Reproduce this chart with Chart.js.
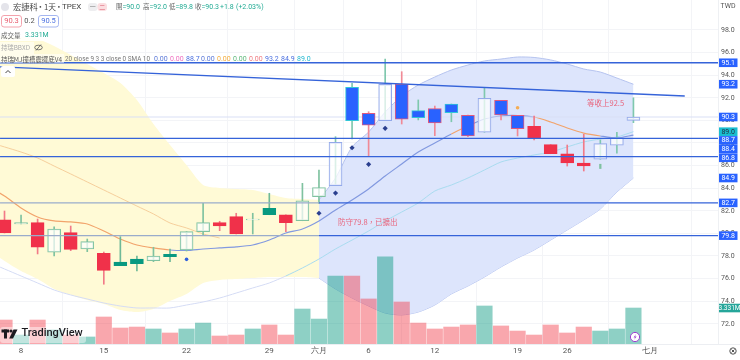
<!DOCTYPE html>
<html>
<head>
<meta charset="utf-8">
<style>
  html, body { margin: 0; padding: 0; background: #fff; }
  canvas { display: block; filter: blur(0.35px); }
</style>
<script src="https://cdn.jsdelivr.net/npm/chart.js@4"></script>
</head>
<body>
<canvas id="chart" width="740" height="360"></canvas>
<script>
// candles, index 0 is the bar just left of "8"
const kinds = ['r','g','r','g','r','g','r','t','t','g','t','g','g','r','r','g','t','r','g','g','bh','bc','br','bh','br','bc','br','bc','br','bh','br','br','r','r','r','r','bh','bh','bh'];
const opens = [81.19,80.83,80.95,78.33,80.06,78.62,78.24,77.47,77.73,77.58,78.15,78.53,80.15,80.95,81.48,81.2,82.22,81.65,81.12,83.25,84.22,92.93,90.63,89.97,93.19,90.86,91.04,91.45,90.45,88.95,91.78,90.45,89.48,87.85,87.05,86.23,86.56,87.8,90.0];
const closes = [80.04,80.96,78.77,80.39,78.59,79.27,76.73,77.14,77.32,78.0,77.94,80.15,80.95,80.65,79.95,81.27,81.65,80.95,82.87,84.06,88.06,89.97,89.57,93.19,90.1,90.24,89.77,90.68,88.62,91.96,90.48,89.27,88.42,87.05,86.23,85.96,87.94,88.47,90.3];
const highs = [81.98,81.63,81.27,80.57,80.65,79.5,78.35,79.71,78,78.77,78.62,80.15,82.66,81.07,81.78,81.78,83.55,81.65,84.43,85.61,88.56,93.28,90.77,95.43,94.31,91.81,91.27,91.45,90.48,92.89,91.78,90.45,90.39,87.85,87.82,88.77,88.27,88.95,92.0];
const lows = [80.04,80.83,78.18,78,78.47,78.38,75.5,77.14,76.67,77.5,77.5,78.44,79.8,80.24,79.95,79.95,81.65,80.15,81.12,82.66,84.22,88.35,86.79,89.97,89.68,90.04,88.65,89.88,88.56,88.95,90.04,88.62,88.27,87.05,85.96,85.52,86.56,87.09,89.8];

// volume in millions, 1 = green bar
const volumes = [2.22,0.83,2.22,1.30,0.83,0.65,2.50,1.48,1.57,1.39,1.02,1.39,1.94,0.74,0.83,1.39,1.76,0.83,3.24,2.31,6.30,6.30,4.17,8.06,3.89,1.94,1.39,1.57,1.76,3.52,1.67,1.20,0.83,1.76,1.02,1.57,1.20,1.39,3.331];
const volumeUp = [0,1,0,1,0,1,0,0,0,1,0,1,1,0,0,1,0,0,1,1,1,0,0,1,0,0,0,0,0,1,0,0,0,0,0,0,1,1,1];

// indicator lines, these start one bar earlier (index -1) so they run off the left edge
const bandUpper = [97.56,97.47,97.38,97.20,96.58,95.79,94.99,94.19,93.31,91.81,89.68,87.82,86.05,84.28,84.02,83.93,83.84,83.49,83.13,83.04,82.96,84.90,87.65,88.97,90.74,92.16,93.13,93.84,94.46,94.90,95.26,95.43,95.61,95.57,95.35,94.99,94.55,94.28,93.75,93.2];
const bandLower = [78.53,77.56,76.67,75.96,75.08,74.55,74.10,73.75,73.22,73.04,73.31,74.02,74.64,75.61,75.88,75.96,76.05,76.14,76.14,76.14,76.05,75.08,74.28,73.57,72.95,72.78,73.04,73.66,74.64,75.34,76.14,77.03,77.82,78.53,79.41,80.30,81.19,82.16,83.66,84.9];
const midLine = [84.19,83.31,82.25,81.45,81.10,81.01,80.83,80.21,79.50,78.97,78.71,78.53,78.49,78.62,78.71,78.80,78.97,79.41,80.03,80.39,81.10,82.07,82.96,83.93,85.08,86.14,87.20,88.0,88.80,89.50,90.12,90.39,90.43,90.30,89.86,89.33,88.88,88.62,88.44,88.7];
const slowLine = [77.47,76.85,76.23,75.61,74.99,74.55,74.19,73.84,73.57,73.40,73.40,73.40,73.66,73.93,74.28,74.72,75.17,75.61,76.23,76.94,77.73,78.62,79.41,80.21,81.10,81.89,82.69,83.75,84.28,84.90,85.61,86.32,86.67,86.94,87.20,87.65,88.09,88.35,88.53,89.0];
const fadedLine = [88.09,87.65,87.20,86.67,85.96,85.26,84.55,83.84,83.13,82.42,81.72,80.92,80.48,79.95,79.59];
const midOrangeBars = [-1,0,1,2,3,4,5,6,7,8,9,27,32,33,34,35];
const bandSwitchBar = 19;

// drawn levels and the falling trend line [bar, price]
const levels = [95.1, 88.4, 86.8, 82.7, 79.8];
const trendLine = [[-0.27, 94.73], [41.1, 92.16]];
const lastClose = 90.3;

// markers
const diamondBars = [19,20,21,22,23];
const diamondPrices = [81.78,83.57,87.58,86.11,89.3];
const dotBlue = [[11, 77.7]];
const dotOrange = [[31, 91.12]];
const smallTick = [36, 85.74, 86.12];

// axes
const xTickBars = [1,6,11,16,19,22,26,31,34,39];
const xTickLabels = ['8','15','22','29','六月','6','12','19','26','七月'];
const priceTicks = [98,96,94,92,90,88,86,84,82,80,78,76,74,72];
const priceBadges = [['95.1','b'],['93.2','b'],['90.3','b'],['89.0','c'],['88.7','b'],['88.4','b'],['86.8','b'],['84.9','b'],['82.7','b'],['79.8','b']];

const FONT = '"Noto Sans CJK TC", Roboto, sans-serif';
const NUM = 'Roboto, sans-serif';
const RED = '#f0314a', TEAL = '#089981', GREEN_EDGE = '#7fc2a0', BLUE = '#2962ff', BLUE_EDGE = '#93a9ea';
const LEVEL = '#3563d9';

const bodyFill = { r: RED, t: TEAL, g: 'rgba(255,255,255,.7)', bh: 'rgba(255,255,255,.72)', bc: BLUE, br: BLUE };
const bodyEdge = { r: RED, t: TEAL, g: GREEN_EDGE, bh: BLUE_EDGE, bc: '#31c6d8', br: '#e0597e' };
const wickColor = { r: '#f27a88', t: '#6fb998', g: GREEN_EDGE, bh: '#7fc8ae', bc: '#7fc8ae', br: '#f08a96' };

const series = (arr, from, to) => arr.map((v, k) => ({ x: k - 1, y: v })).filter(p => p.x >= from && p.x <= to);

function lineSet(data, color, width, order, extra) {
  return Object.assign({ type: 'line', data, borderColor: color, borderWidth: width, pointRadius: 0, tension: 0.25, fill: false, order }, extra || {});
}

const datasets = [
  lineSet(series(bandUpper, -1, bandSwitchBar), 'rgba(0,0,0,0)', 0, 90, { fill: '+1', backgroundColor: '#fffad6' }),
  lineSet(series(bandLower, -1, bandSwitchBar), 'rgba(0,0,0,0)', 0, 90),
  lineSet(series(bandUpper, bandSwitchBar, 38), '#b5c3ef', 1, 89, { fill: '+1', backgroundColor: '#dde5fc' }),
  lineSet(series(bandLower, bandSwitchBar, 38), '#b5c3ef', 1, 89),
  lineSet(series(slowLine, -1, 38), '#c3e6f3', 1, 70, {
    segment: { borderColor: c => c.p0.parsed.x < 17 ? '#d5dcf5' : '#a9dcf0' },
  }),
  lineSet(series(fadedLine, -1, 13), '#f6cf9c', 1, 70),
  lineSet(series(midLine, -1, 38), '#8ea0e0', 1.2, 68, {
    segment: { borderColor: c => midOrangeBars.includes(c.p0.parsed.x) ? '#f2a36b' : '#8299e0' },
  }),
  lineSet([{ x: -0.27, y: lastClose }, { x: 43.11, y: lastClose }], '#d9dff5', 1, 65, { tension: 0 }),
  {
    type: 'bar', yAxisID: 'yVol', grouped: false, order: 60, barThickness: 15.5,
    data: volumes.map((v, i) => ({ x: i, y: v })),
    backgroundColor: volumeUp.map(u => u ? 'rgba(8,153,129,.46)' : 'rgba(242,54,69,.44)'),
  },
  {
    type: 'bar', grouped: false, order: 40, barThickness: 1,
    data: highs.map((h, i) => ({ x: i, y: [lows[i], h] })),
    backgroundColor: kinds.map(k => wickColor[k]),
  },
  {
    type: 'bar', grouped: false, order: 39, barThickness: 13, borderSkipped: false, borderWidth: 1,
    data: opens.map((o, i) => ({ x: i, y: [o, closes[i]] })),
    backgroundColor: kinds.map(k => bodyFill[k]),
    borderColor: kinds.map(k => bodyEdge[k]),
  },
  {
    type: 'bar', grouped: false, order: 38, barThickness: 1.6,
    data: [{ x: smallTick[0], y: [smallTick[1], smallTick[2]] }],
    backgroundColor: '#7fc2a0',
  },
  {
    type: 'scatter', order: 20, pointStyle: 'rectRot', pointRadius: 2.6, backgroundColor: '#2a3f8f', borderWidth: 0,
    data: diamondBars.map((b, i) => ({ x: b, y: diamondPrices[i] })),
  },
  {
    type: 'scatter', order: 20, pointRadius: 1.8, backgroundColor: '#2f5fdc', borderWidth: 0,
    data: dotBlue.map(p => ({ x: p[0], y: p[1] })),
  },
  {
    type: 'scatter', order: 20, pointRadius: 1.8, backgroundColor: '#f4ad55', borderWidth: 0,
    data: dotOrange.map(p => ({ x: p[0], y: p[1] })),
  },
];

// levels go over the candles; left of the band switch the two low ones read paler
levels.forEach(v => {
  const pale = v < 84;
  datasets.push(lineSet([{ x: -0.27, y: v }, { x: bandSwitchBar, y: v }, { x: 43.11, y: v }], LEVEL, 1.3, 10, {
    tension: 0,
    segment: { borderColor: c => (pale && c.p0.parsed.x < bandSwitchBar) ? '#9aaccb' : LEVEL },
  }));
});
datasets.push(lineSet(trendLine.map(p => ({ x: p[0], y: p[1] })), LEVEL, 1.3, 10, { tension: 0 }));

function txt(ctx, s, x, y, color, size, align, weight, family, maxW) {
  ctx.fillStyle = color;
  ctx.font = `${weight || 'normal'} ${size || 9}px ${family || FONT}`;
  ctx.textAlign = align || 'left';
  ctx.textBaseline = 'middle';
  if (maxW) ctx.fillText(s, x, y, maxW);
  else ctx.fillText(s, x, y);
}

function box(ctx, x, y, w, h, r, fill, stroke) {
  ctx.beginPath();
  ctx.roundRect(x, y, w, h, r);
  if (fill) { ctx.fillStyle = fill; ctx.fill(); }
  if (stroke) { ctx.strokeStyle = stroke; ctx.lineWidth = 1; ctx.stroke(); }
}

// drop the half-label margins Chart.js keeps at the axis ends
function noEndPadding(s) {
  s.paddingTop = s.paddingBottom = s.paddingLeft = s.paddingRight = 0;
}

const overlay = {
  id: 'overlay',
  afterDraw(chart) {
    const { ctx, scales } = chart;
    const py = scales.y;
    ctx.save();

    // notes on the chart
    txt(ctx, '防守79.8，已擴出', 338, py.getPixelForValue(81.0), '#e8647c', 7.5);
    txt(ctx, '等收上92.5', 587, py.getPixelForValue(91.55), '#e8647c', 7.5);

    // legend block sits on a faint white wash
    box(ctx, 0, 29, 62, 12, 0, 'rgba(255,255,255,.85)');
    box(ctx, 0, 42, 34, 12, 0, 'rgba(255,255,255,.55)');
    box(ctx, 0, 54, 64, 9, 0, 'rgba(255,255,255,.55)');

    ctx.beginPath(); ctx.arc(5, 7, 4, 0, Math.PI * 2); ctx.fillStyle = '#e4e4ea'; ctx.fill();
    txt(ctx, '宏捷科', 13, 7, '#444', 8.3);
    txt(ctx, '·', 40.5, 7, '#444', 8.3, 'center');
    txt(ctx, '1天', 44, 7, '#444', 8, 'left', 'normal', FONT, 12);
    txt(ctx, '·', 59, 7, '#444', 8.3, 'center');
    txt(ctx, 'TPEX', 62, 7, '#444', 8, 'left', 'normal', NUM);
    box(ctx, 88, 3, 9.5, 8, 3, '#eeeef0');
    box(ctx, 97.5, 3, 9.5, 8, 3, '#fbdde0');
    txt(ctx, '一', 92.7, 7, '#777', 6, 'center');
    txt(ctx, '二', 102.2, 7, '#d9586c', 6, 'center');

    [['開', '90.0', 116], ['高', '92.0', 143], ['低', '89.8', 169], ['收', '90.3', 195]].forEach(o => {
      txt(ctx, o[0], o[2], 7, '#666', 6.5);
      txt(ctx, '=' + o[1], o[2] + 6.5, 7, '#22ab94', 7, 'left', 'normal', NUM);
    });
    txt(ctx, '+1.8', 220, 7, '#22ab94', 7, 'left', 'normal', NUM);
    txt(ctx, '(+2.03%)', 236, 7, '#22ab94', 7, 'left', 'normal', NUM);

    box(ctx, 1.5, 15.5, 20, 11.5, 2.5, '#fff', '#f4a3ad');
    txt(ctx, '90.3', 11.5, 21.5, '#e85c6e', 7.5, 'center', 'normal', NUM);
    txt(ctx, '0.2', 29.5, 21, '#555', 7.5, 'center', 'normal', NUM);
    box(ctx, 38.5, 15.5, 20, 11.5, 2.5, '#fff', '#a5b6f0');
    txt(ctx, '90.5', 48.5, 21.5, '#4a6fe0', 7.5, 'center', 'normal', NUM);

    txt(ctx, '成交量', 1, 35.5, '#666', 6.5);
    txt(ctx, '3.331M', 25, 35.5, '#22ab94', 7, 'left', 'normal', NUM);
    txt(ctx, '持瑞BBXD', 1, 48, '#aaa', 6.5, 'left', 'normal', FONT, 29);
    ctx.beginPath(); ctx.ellipse(38.5, 47.5, 3.8, 2.3, 0, 0, Math.PI * 2);
    ctx.moveTo(41, 44.5); ctx.lineTo(36, 50.5);
    ctx.strokeStyle = '#666'; ctx.lineWidth = 0.9; ctx.stroke();

    txt(ctx, '持瑞MJ撞槽震擺底V4', 1, 59.5, '#555', 6.6, 'left', 'normal', FONT, 61);
    txt(ctx, '20 close 9 3 3 close 0 SMA 10', 65, 59.5, '#777', 7, 'left', 'normal', NUM, 85);
    [['0.00', 154, '#5a78d8'], ['0.00', 170, '#ee6fc0'], ['88.7', 186, '#4a6fe0'], ['0.00', 201, '#5a78d8'], ['0.00', 217, '#f4ad3d'],
     ['0.00', 233, '#5cb87a'], ['0.00', 249, '#ef7a80'], ['93.2', 265, '#4a6fe0'], ['84.9', 281, '#4a6fe0'], ['89.0', 297, '#22b8d0']].forEach(o => {
      txt(ctx, o[0], o[1], 59.5, o[2], 7, 'left', 'normal', NUM);
    });

    box(ctx, 1, 66, 14, 11, 2, '#fff');
    ctx.beginPath(); ctx.moveTo(5.5, 73); ctx.lineTo(8, 70.5); ctx.lineTo(10.5, 73);
    ctx.strokeStyle = '#444'; ctx.lineWidth = 1; ctx.stroke();

    // price axis badges, pushed down where they would collide
    txt(ctx, 'TWD', 728, 6.5, '#555', 7, 'center', 'normal', NUM);
    let lastY = -99;
    priceBadges.forEach(b => {
      const y = Math.max(py.getPixelForValue(parseFloat(b[0])), lastY + 8.7);
      lastY = y;
      box(ctx, 719, y - 4.3, 18.5, 8.6, 0, b[1] === 'c' ? '#19bdd0' : BLUE);
      txt(ctx, b[0], 728.2, y + 0.2, b[1] === 'c' ? '#234' : '#fff', 7, 'center', 'normal', NUM);
    });
    const volY = scales.yVol.getPixelForValue(volumes[volumes.length - 1]);
    box(ctx, 719, volY - 4.3, 21, 8.6, 0, '#26a69a');
    txt(ctx, '3.331M', 729.5, volY + 0.2, '#fff', 6.5, 'center', 'normal', NUM);

    // bolt badge on the last volume bar
    ctx.beginPath(); ctx.arc(635, 337, 4.6, 0, Math.PI * 2);
    ctx.fillStyle = '#fff'; ctx.fill();
    ctx.strokeStyle = '#9c3fd0'; ctx.lineWidth = 1; ctx.stroke();
    ctx.beginPath(); ctx.moveTo(636, 334); ctx.lineTo(633.6, 337.4); ctx.lineTo(635.2, 337.4); ctx.lineTo(634, 340); ctx.lineTo(636.6, 336.4); ctx.lineTo(635, 336.4); ctx.closePath();
    ctx.fillStyle = '#9c3fd0'; ctx.fill();

    // TradingView mark
    box(ctx, 0, 327, 86, 16, 3, 'rgba(255,255,255,.45)');
    ctx.fillStyle = '#1b1b20';
    ctx.fillRect(1.5, 329.5, 7.5, 3); ctx.fillRect(4, 329.5, 3, 9);
    ctx.beginPath(); ctx.arc(11, 331, 1.6, 0, Math.PI * 2); ctx.fill();
    ctx.beginPath(); ctx.moveTo(13.5, 329.5); ctx.lineTo(17.5, 329.5); ctx.lineTo(13, 338.5); ctx.lineTo(9.2, 338.5); ctx.closePath(); ctx.fill();
    txt(ctx, 'TradingView', 21.5, 333.5, '#1b1b20', 11, 'left', '500', NUM);

    // settings ring bottom right
    ctx.beginPath(); ctx.arc(733, 351, 3.2, 0, Math.PI * 2);
    ctx.strokeStyle = '#555'; ctx.lineWidth = 1; ctx.stroke();
    ctx.beginPath(); ctx.moveTo(731.5, 349.5); ctx.lineTo(734.5, 352.5); ctx.moveTo(734.5, 349.5); ctx.lineTo(731.5, 352.5); ctx.stroke();

    ctx.strokeStyle = '#eceef2'; ctx.lineWidth = 1;
    ctx.beginPath(); ctx.moveTo(0, 344.5); ctx.lineTo(740, 344.5); ctx.stroke();
    ctx.restore();
  },
};

new Chart(document.getElementById('chart'), {
  data: { datasets },
  plugins: [overlay],
  options: {
    responsive: false,
    animation: false,
    layout: { padding: 0, autoPadding: false },
    plugins: { legend: { display: false }, tooltip: { enabled: false } },
    scales: {
      x: {
        type: 'linear', min: -0.272, max: 43.11, offset: false,
        afterBuildTicks(s) { s.ticks = xTickBars.map(v => ({ value: v })); },
        afterFit(s) { s.height = 16; noEndPadding(s); s._handleMargins(); },
        grid: { color: '#f3f4f7', drawTicks: false },
        border: { display: false },
        ticks: {
          autoSkip: false, maxRotation: 0, padding: 2, color: '#555', font: { size: 8, family: NUM },
          callback: v => xTickLabels[xTickBars.indexOf(v)] || '',
        },
      },
      y: {
        position: 'right', min: 70.21, max: 100.655,
        afterBuildTicks(s) { s.ticks = priceTicks.map(v => ({ value: v })); },
        afterFit(s) { s.width = 22; noEndPadding(s); s._handleMargins(); },
        grid: { color: '#f3f4f7', drawTicks: false },
        border: { color: '#eef0f3' },
        ticks: { autoSkip: false, padding: 3, color: '#555', font: { size: 7, family: NUM }, callback: v => v.toFixed(1) },
      },
      yVol: { display: false, min: 0, max: 31.85 },
    },
  },
});
</script>
</body>
</html>
